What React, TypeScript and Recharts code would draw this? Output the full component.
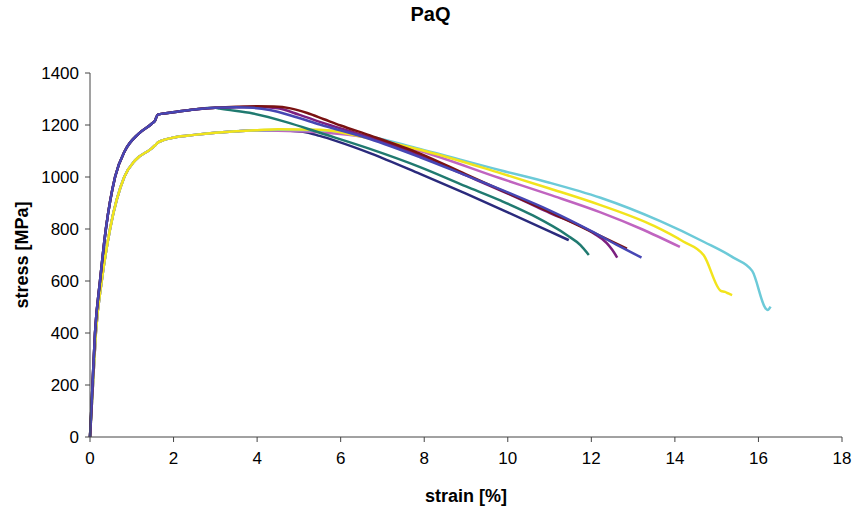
import { Line, LineChart, XAxis, YAxis } from "recharts";

// strain [%] / stress [MPa]
const STRAIN_TICKS = [0, 2, 4, 6, 8, 10, 12, 14, 16, 18];
const STRESS_TICKS = [0, 200, 400, 600, 800, 1000, 1200, 1400];

// shared elastic rise, upper group (peak ~1270)
const RISE_HIGH_STRAIN = [0, 0.06, 0.12, 0.24, 0.38, 0.6, 0.84, 1.16, 1.47, 1.56, 1.62, 2.04, 2.5, 3.0];
const RISE_HIGH_STRESS = [0, 200, 400, 600, 800, 1000, 1102, 1166, 1204, 1218, 1240, 1250, 1260, 1266];

// shared elastic rise, lower group (peak ~1180)
const RISE_LOW_STRAIN = [0, 0.07, 0.14, 0.28, 0.48, 0.82, 1.08, 1.47, 1.56, 1.64, 2.04, 2.5, 3.0, 3.5, 4.0];
const RISE_LOW_STRESS = [0, 200, 400, 600, 800, 1000, 1064, 1109, 1122, 1134, 1153, 1162, 1170, 1176, 1180];

const BLUE_STRAIN = [3.5, 3.9, 4.3, 4.9, 5.5, 6.7, 7.9, 9.0, 10.0, 11.0, 12.0, 12.6, 13.2];
const BLUE_STRESS = [1268, 1266, 1258, 1232, 1202, 1146, 1076, 1006, 941, 872, 792, 740, 690];

const MAROON_STRAIN = [3.5, 4.0, 4.4, 4.8, 5.2, 5.6, 6.0, 6.7, 7.9, 9.0, 10.0, 11.0, 12.0, 12.85];
const MAROON_STRESS = [1270, 1272, 1271, 1264, 1246, 1222, 1198, 1160, 1090, 1010, 938, 866, 790, 724];

const PURPLE_STRAIN = [3.5, 4.0, 4.5, 5.0, 5.5, 6.7, 7.9, 9.0, 10.0, 11.0, 12.05, 12.37, 12.5, 12.62];
const PURPLE_STRESS = [1268, 1270, 1264, 1240, 1212, 1152, 1082, 1006, 936, 862, 784, 746, 720, 690];

const TEAL_STRAIN = [3.1, 3.9, 4.7, 5.5, 6.7, 7.9, 9.0, 9.82, 10.6, 11.42, 11.74, 11.94];
const TEAL_STRESS = [1263, 1244, 1211, 1170, 1108, 1038, 964, 910, 852, 776, 738, 700];

const NAVY_STRAIN = [4.5, 5.1, 5.5, 5.9, 6.7, 7.9, 9.0, 10.0, 11.0, 11.46];
const NAVY_STRESS = [1180, 1174, 1158, 1138, 1092, 1012, 936, 864, 791, 757];

const MAGENTA_STRAIN = [4.5, 5.5, 6.7, 7.9, 9.82, 11.0, 12.22, 13.2, 14.12];
const MAGENTA_STRESS = [1178, 1172, 1150, 1100, 995, 932, 864, 800, 731];

const YELLOW_STRAIN = [4.5, 5.5, 6.7, 7.9, 9.82, 11.0, 12.22, 13.5, 14.2, 14.69, 15.1, 15.2, 15.28, 15.37];
const YELLOW_STRESS = [1184, 1182, 1148, 1105, 1015, 956, 892, 812, 752, 699, 562, 558, 552, 546];

const CYAN_STRAIN = [4.5, 5.5, 6.7, 7.8, 9.82, 11.0, 12.22, 13.65, 14.7, 15.4, 15.85, 16.17, 16.22, 16.29];
const CYAN_STRESS = [1182, 1180, 1156, 1112, 1026, 978, 920, 830, 750, 690, 639, 495, 488, 501];

const toPoints = (xs: number[], ys: number[]) => xs.map((x, i) => ({ x, y: ys[i] }));

const high = (xs: number[], ys: number[]) =>
  toPoints(RISE_HIGH_STRAIN, RISE_HIGH_STRESS).concat(toPoints(xs, ys));
const low = (xs: number[], ys: number[]) =>
  toPoints(RISE_LOW_STRAIN, RISE_LOW_STRESS).concat(toPoints(xs, ys));

const SERIES = [
  { name: "navy", color: "#2a2a7c", data: low(NAVY_STRAIN, NAVY_STRESS) },
  { name: "magenta", color: "#c064c0", data: low(MAGENTA_STRAIN, MAGENTA_STRESS) },
  { name: "cyan", color: "#6ccad8", data: low(CYAN_STRAIN, CYAN_STRESS) },
  { name: "yellow", color: "#f2e41c", data: low(YELLOW_STRAIN, YELLOW_STRESS) },
  { name: "teal", color: "#207a70", data: high(TEAL_STRAIN, TEAL_STRESS) },
  { name: "purple", color: "#7b1f7f", data: high(PURPLE_STRAIN, PURPLE_STRESS) },
  { name: "maroon", color: "#7a1212", data: high(MAROON_STRAIN, MAROON_STRESS) },
  { name: "blue", color: "#4646b4", data: high(BLUE_STRAIN, BLUE_STRESS) },
];

const FONT = "'Liberation Sans', Arial, sans-serif";
const AXIS = "#444";

export default function App() {
  return (
    <div style={{ position: "absolute", left: 0, top: 0, width: 857, height: 509, background: "#fff", fontFamily: FONT }}>
      <div style={{ position: "absolute", top: 3, left: 2, width: 857, textAlign: "center", fontSize: 20, fontWeight: "bold" }}>
        PaQ
      </div>
      <LineChart width={857} height={509} margin={{ top: 73, right: 15, bottom: 42, left: 10 }}>
        <XAxis
          type="number"
          dataKey="x"
          domain={[0, 18]}
          ticks={STRAIN_TICKS}
          allowDuplicatedCategory={false}
          height={30}
          stroke={AXIS}
          tickSize={5}
          tickMargin={10}
          tick={{ fill: "#000", fontSize: 17, fontFamily: FONT }}
          label={{ value: "strain [%]", position: "bottom", offset: 22, fill: "#000", fontSize: 18, fontWeight: "bold", fontFamily: FONT }}
        />
        <YAxis
          type="number"
          dataKey="y"
          domain={[0, 1400]}
          ticks={STRESS_TICKS}
          width={80}
          stroke={AXIS}
          tickSize={5}
          tickMargin={6}
          tick={{ fill: "#000", fontSize: 17, fontFamily: FONT }}
          label={{ value: "stress [MPa]", angle: -90, position: "insideLeft", offset: 12, style: { textAnchor: "middle" }, fill: "#000", fontSize: 18, fontWeight: "bold", fontFamily: FONT }}
        />
        {SERIES.map((s) => (
          <Line
            key={s.name}
            data={s.data}
            dataKey="y"
            type="monotone"
            stroke={s.color}
            strokeWidth={2.5}
            dot={false}
            isAnimationActive={false}
          />
        ))}
      </LineChart>
    </div>
  );
}
